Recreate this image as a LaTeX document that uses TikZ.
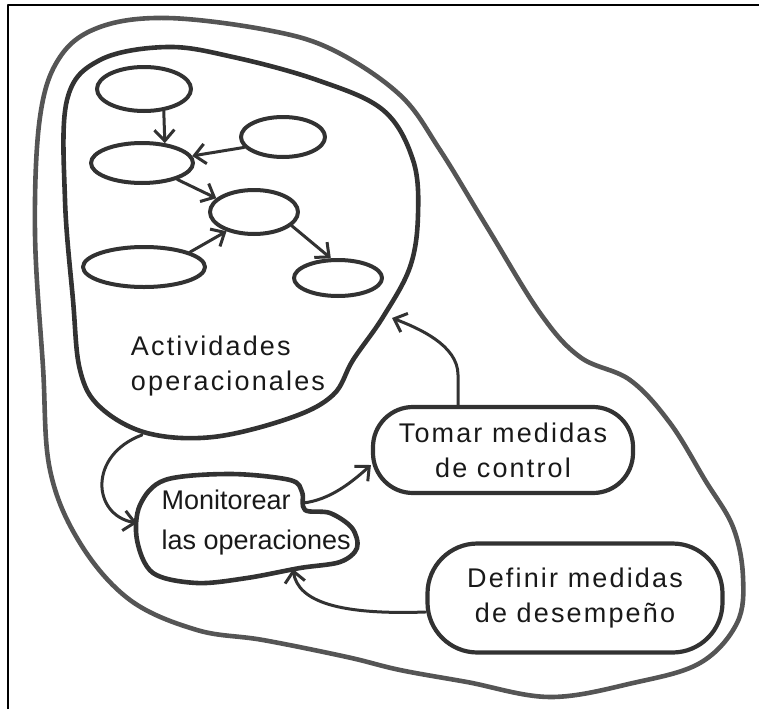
\documentclass[tikz,border=0pt]{standalone}
\usepackage{fontspec}
\setmainfont{Liberation Sans}
\usepackage{tikz}
\usetikzlibrary{arrows.meta, calc, positioning, shapes.geometric}
\definecolor{pencil}{RGB}{50, 50, 50}
\definecolor{softpencil}{RGB}{85, 85, 85}
\definecolor{inkblack}{RGB}{25, 25, 25}

\tikzset{
  blob/.style={draw=softpencil, line width=4.6pt},
  activ/.style={ellipse, draw=pencil, line width=4pt, inner sep=0pt},
  step box/.style={draw=pencil, line width=4.2pt, align=center},
  arr/.style={draw=pencil, line width=3pt, -{Straight Barb[length=11pt,width=20pt,line width=3pt]}},
  hand/.style={text=inkblack, font=\fontsize{27}{35}\selectfont},
  widehand/.style={text=inkblack, font=\fontsize{27}{35}\selectfont\addfontfeature{LetterSpace=8}},
}

\begin{document}
\begin{tikzpicture}[x=1pt, y=-1pt, line cap=round, line join=round]
    \useasboundingbox (0,0) rectangle (759,709);
    \draw[line width=2.6pt, line cap=butt] (8,709) -- (8,5) -- (759,5);

    % outer region
    \draw[blob] plot[smooth cycle, tension=0.6] coordinates {
      (167,18) (267,30) (333,50) (400,95) (440,150) (487,227) (540,313)
      (580,357) (630,380) (670,423) (705,480) (733,527) (743,577) (737,623)
      (700,663) (633,683) (550,697) (467,682) (400,670) (347,657) (263,640)
      (197,630) (130,600) (80,543) (50,470) (43,367) (35,233) (40,117)
      (60,57) (100,27)};

    % operational activities
    \draw[blob, draw=pencil] plot[smooth cycle, tension=0.6] coordinates {
      (167,47) (233,57) (317,80) (383,110) (413,160) (418,215) (410,267)
      (383,317) (353,360) (333,395) (290,418) (213,437) (147,433) (100,407)
      (80,370) (73,300) (65,200) (67,100) (100,60)};

    \node[activ, minimum width=94pt, minimum height=44pt] (e1) at (144,89) {};
    \node[activ, minimum width=102pt, minimum height=40pt] (e2) at (142,163) {};
    \node[activ, minimum width=84pt, minimum height=40pt] (e3) at (283,137) {};
    \node[activ, minimum width=88pt, minimum height=44pt] (e4) at (254,212) {};
    \node[activ, minimum width=122pt, minimum height=40pt] (e5) at (144,267) {};
    \node[activ, minimum width=88pt, minimum height=36pt] (e6) at (338,278) {};

    \draw[arr] (e1.-48) -- (e2.41);
    \draw[arr] (e3.195) -- (e2.8);
    \draw[arr] (e2.-25) -- (e4.160);
    \draw[arr] (e5.18) -- (e4.215);
    \draw[arr] (e4.-20) -- (e6.110);

    \node[widehand, align=left] (actlbl) at (228,366) {Actividades\\operacionales};

    % monitoring
    \draw[blob, draw=pencil] plot[smooth cycle, tension=0.55] coordinates {
      (165,480) (230,474) (290,480) (302,492) (305,510) (330,513) (352,528)
      (357,548) (340,562) (300,568) (247,578) (197,583) (153,573) (137,540)
      (140,505)};
    \node[hand, font=\fontsize{27}{40}\selectfont, align=left, anchor=west] (mon) at (158,523) {Monitorear\\las operaciones};

    \node[step box, widehand, rounded corners=40pt, minimum width=260pt, minimum height=86pt] (tom) at (503,450) {Tomar medidas\\de control};
    \node[step box, widehand, rounded corners=50pt, minimum width=295pt, minimum height=109pt] (def) at (575,598) {Definir medidas\\de desempeño};

    \coordinate (actout) at (142,435);
    \coordinate (actin) at (392,318);
    \coordinate (mon-w) at (137,523);
    \coordinate (mon-ne) at (303,503);
    \coordinate (mon-s) at (293,569);
    \coordinate (tom-in) at ([yshift=-15pt]tom.west);
    \coordinate (tom-up) at ([xshift=-45pt]tom.north);
    \coordinate (def-out) at ([yshift=-14pt]def.west);

    \draw[arr] (actout) .. controls (88,455) and (92,515) .. (mon-w);
    \draw[arr] (mon-ne) .. controls (330,500) and (352,482) .. (tom-in);
    \draw[arr] (tom-up) -- ++(0,-30) .. controls (458,345) and (418,328) .. (actin);
    \draw[arr] (def-out) .. controls (340,615) and (298,602) .. (mon-s);
\end{tikzpicture}
\end{document}
